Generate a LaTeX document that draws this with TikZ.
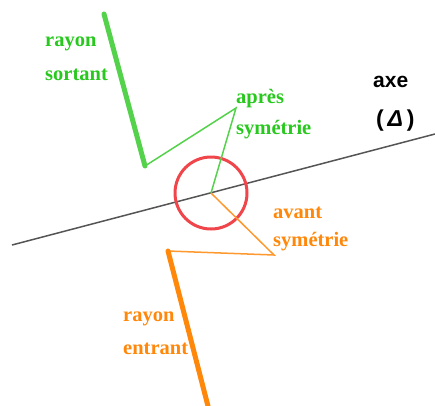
\documentclass[tikz,border=0pt]{standalone}
\usepackage{fontspec}
\setmainfont{Liberation Serif}
\setsansfont{Liberation Sans}
\usepackage{xcolor}

\definecolor{vert}{RGB}{85,210,75}
\definecolor{verttexte}{RGB}{40,200,30}
\definecolor{orange}{RGB}{255,135,10}
\definecolor{rouge}{RGB}{240,70,75}
\definecolor{gris}{RGB}{85,85,85}

\begin{document}
\begin{tikzpicture}[
        x=1pt, y=-1pt,
        label/.style={anchor=base west, inner sep=0pt, font=\fontsize{20.5}{20.5}\selectfont\bfseries},
        rayon/.style={line width=5pt, line cap=round},
        trait/.style={line width=1.5pt}
    ]
    \useasboundingbox (0,0) rectangle (435,405);

    % points of the figure
    \coordinate (gauche) at (12,245);
    \coordinate (droite) at (435,134);
    \coordinate (centre) at (211,193);
    \coordinate (sortA) at (104,14);
    \coordinate (sortB) at (145,166);
    \coordinate (apres) at (236,108);
    \coordinate (avant) at (274,255);
    \coordinate (entA) at (168,251);
    \coordinate (entB) at (209,410);

    \draw[gris, trait] (gauche) -- (droite);
    \draw[rouge, line width=3pt] (centre) circle (36);

    \draw[vert, rayon] (sortA) -- (sortB);
    \draw[vert, trait] (sortB) -- (apres) -- (centre);
    \draw[orange!85, trait] (centre) -- (avant) -- (entA);
    \draw[orange, rayon] (entA) -- (entB);

    \node[label, text=verttexte] (rs1) at (45,46) {rayon};
    \node[label, text=verttexte] (rs2) at (45,80) {sortant};
    \node[label, text=verttexte] (as1) at (236,103) {après};
    \node[label, text=verttexte] (as2) at (236,134) {symétrie};
    \node[label, text=orange] (av1) at (273,218) {avant};
    \node[label, text=orange] (av2) at (273,246) {symétrie};
    \node[label, text=orange] (re1) at (123,321) {rayon};
    \node[label, text=orange] (re2) at (123,354) {entrant};

    \node[label, font=\fontsize{21}{21}\selectfont\sffamily\bfseries] (axe) at (373,87) {axe};
    \node[label, font=\fontsize{23}{23}\selectfont\sffamily\bfseries] (delta) at (376,126) {(\,\textit{Δ}\,)};
\end{tikzpicture}
\end{document}
